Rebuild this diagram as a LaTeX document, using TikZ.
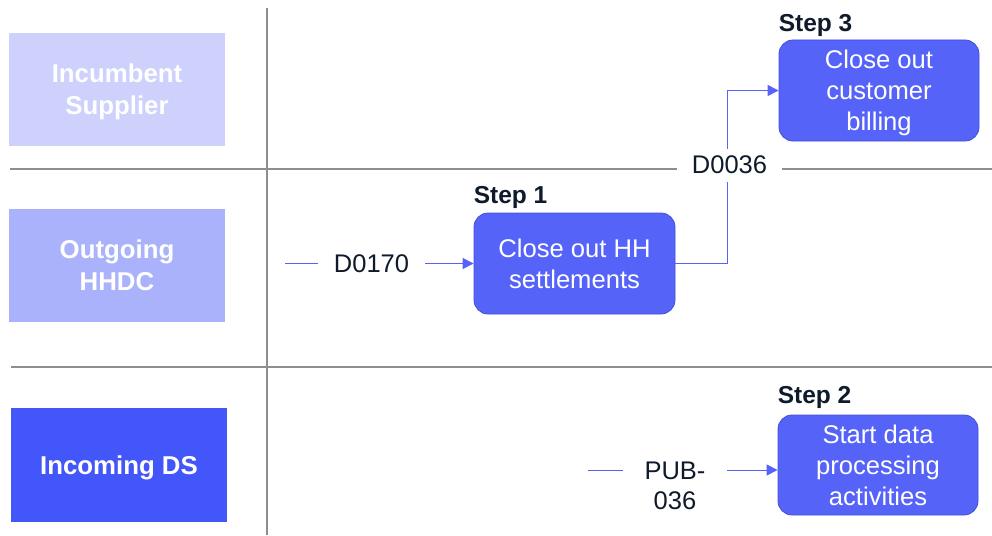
\documentclass[tikz,border=0pt]{standalone}
\usepackage{fontspec}
\setmainfont{Liberation Sans}
\usetikzlibrary{arrows.meta}
\definecolor{laneA}{HTML}{CDD1FC}
\definecolor{laneB}{HTML}{AAB2FB}
\definecolor{laneC}{HTML}{4356FA}
\definecolor{stepfill}{HTML}{5563F8}
\definecolor{stepdraw}{HTML}{4350D4}
\definecolor{ink}{HTML}{0F1A2A}
\definecolor{gridc}{HTML}{8E8E8E}
\begin{document}
\begin{tikzpicture}[x=1pt,y=-1pt,
 lanebox/.style={rectangle,minimum width=216pt,minimum height=113pt,inner sep=0pt,text=white,font=\fontsize{25.8}{32}\selectfont\bfseries,align=center,text depth=0pt},
 stepbox/.style={rectangle,rounded corners=14pt,fill=stepfill,draw=stepdraw,line width=0.8pt,minimum width=200pt,minimum height=100pt,text=white,font=\fontsize{25.6}{31}\selectfont,align=center,inner sep=0pt,text depth=0pt},
 steplabel/.style={anchor=base west,inner sep=0pt,text=ink,font=\fontsize{24.5}{28}\selectfont\bfseries},
 flow/.style={draw=stepfill,line width=1pt,-{Triangle[length=11pt,width=11pt]}},
 msg/.style={fill=white,text=ink,font=\fontsize{25.5}{30}\selectfont,align=center,inner sep=0pt},
 sepline/.style={draw=gridc,line width=1.3pt}
]
\useasboundingbox (0,0) rectangle (992,535);
% swimlane separators
\draw[sepline] (267,8) -- (267,535);
\draw[sepline] (10,169) -- (992,169);
\draw[sepline] (11,367) -- (992,367);
% lane headers
\node[lanebox,fill=laneA] (la) at (117,89.5) {Incumbent\\Supplier};
\node[lanebox,fill=laneB] (lb) at (117,265.5) {Outgoing\\HHDC};
\node[lanebox,fill=laneC,minimum height=114pt] (lc) at (119,465) {Incoming DS};
% step boxes
\node[stepbox,minimum width=201pt,minimum height=101pt] (s1) at (574.5,263.5) {Close out HH\\settlements};
\node[stepbox,minimum height=101pt] (s3) at (879,90.5) {Close out\\customer\\billing};
\node[stepbox] (s2) at (878,465) {Start data\\processing\\activities};
\node[steplabel] (t1) at ([yshift=9pt]s1.north west) {Step 1};
\node[steplabel] (t3) at ([yshift=8pt]s3.north west) {Step 3};
\node[steplabel] (t2) at ([yshift=11pt]s2.north west) {Step 2};
% connectors
\coordinate (in1) at (285,263.5);
\coordinate (bend) at (727,0);
\coordinate (in2) at (588,470);
\draw[flow] (in1) -- (s1.west);
\draw[flow] (s1.east) -| (bend |- s3.west) -- (s3.west);
\draw[flow] (in2) -- (in2 -| s2.west);
% message labels
\node[msg,minimum width=107pt,minimum height=30pt] (m1) at (371.5,264) {D0170};
\node[msg,minimum width=105pt,minimum height=33pt] (m2) at (729.5,165) {D0036};
\node[msg,minimum width=104pt] (m3) at (675,486) {PUB-\\036};
\end{tikzpicture}
\end{document}
